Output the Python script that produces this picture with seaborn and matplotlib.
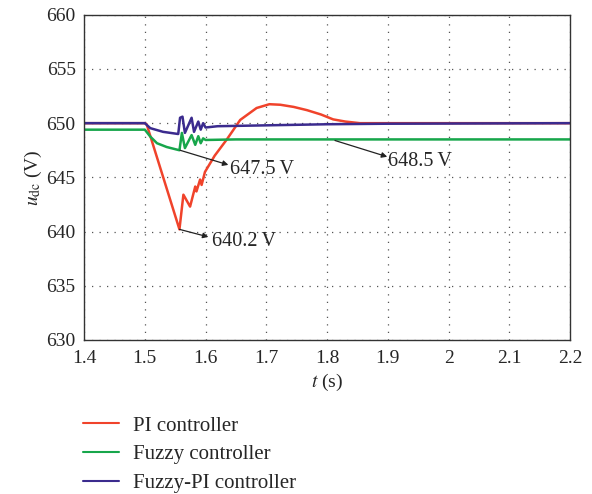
import pandas as pd
import matplotlib
matplotlib.use('Agg')
import matplotlib.pyplot as plt
import seaborn as sns

# Dane
t_pi = [1.4, 1.5, 1.503, 1.557, 1.5635, 1.5745, 1.583, 1.585, 1.591, 1.5935, 1.599,
        1.615, 1.635, 1.657, 1.684, 1.705, 1.723, 1.745, 1.767, 1.79, 1.81, 1.83,
        1.854, 1.9, 2.2]
u_pi = [650.0, 650.0, 649.9, 640.2, 643.4, 642.3, 644.15, 643.7, 644.8, 644.3, 645.5,
        647.0, 648.5, 650.3, 651.4, 651.75, 651.7, 651.5, 651.2, 650.8, 650.35, 650.15,
        650.0, 650.0, 650.0]

t_fz = [1.4, 1.5, 1.509, 1.52, 1.536, 1.557, 1.561, 1.566, 1.577, 1.583, 1.588, 1.592,
        1.596, 1.6, 1.65, 2.2]
u_fz = [649.4, 649.4, 648.76, 648.15, 647.8, 647.5, 649.1, 647.7, 648.9, 648.0, 648.8,
        648.15, 648.6, 648.45, 648.5, 648.5]

t_fpi = [1.4, 1.5, 1.509, 1.53, 1.555, 1.558, 1.562, 1.566, 1.577, 1.581, 1.588, 1.592,
         1.596, 1.6, 1.62, 1.7, 1.8, 1.9, 2.2]
u_fpi = [650.0, 650.0, 649.54, 649.2, 649.0, 650.5, 650.6, 649.1, 650.5, 649.2, 650.15,
         649.4, 650.0, 649.6, 649.72, 649.8, 649.9, 649.95, 650.0]

labels = ['PI controller', 'Fuzzy controller', 'Fuzzy-PI controller']
colors = ['#f0432b', '#17a64b', '#3b2b8e']

df = pd.concat([
    pd.DataFrame({'t': t_pi, 'u': u_pi, 'ctrl': labels[0]}),
    pd.DataFrame({'t': t_fz, 'u': u_fz, 'ctrl': labels[1]}),
    pd.DataFrame({'t': t_fpi, 'u': u_fpi, 'ctrl': labels[2]}),
], ignore_index=True)

sns.set_style('white')
plt.rcParams['font.family'] = ['Liberation Serif', 'DejaVu Serif']
plt.rcParams['mathtext.fontset'] = 'stix'

fig = plt.figure(figsize=(5.92, 4.94), dpi=100)
ax = fig.add_axes([0.142, 0.312, 0.821, 0.658])

sns.lineplot(data=df, x='t', y='u', hue='ctrl', hue_order=labels,
             palette=dict(zip(labels, colors)), estimator=None, sort=False,
             linewidth=1.8, ax=ax, legend=False)

ax.set_xlim(1.4, 2.2)
ax.set_ylim(630, 660)
ax.set_xticks([1.4, 1.5, 1.6, 1.7, 1.8, 1.9, 2.0, 2.1, 2.2])
ax.set_xticklabels(['1.4', '1.5', '1.6', '1.7', '1.8', '1.9', '2', '2.1', '2.2'])
ax.set_yticks(range(630, 661, 5))
ax.tick_params(labelsize=14, length=0)
ax.tick_params(axis='x', pad=7.5)
ax.tick_params(axis='y', pad=6)
ax.grid(True, linestyle=(0, (1, 5)), color='#555555', linewidth=0.9)
for s in ax.spines.values():
    s.set_color('#333333')
    s.set_linewidth(1.0)

ax.set_xlabel(r'$t$ (s)', fontsize=14, labelpad=3)
ax.set_ylabel(r'$u_{\mathrm{dc}}$ (V)', fontsize=14, labelpad=2)

# strzałki od punktu do opisu
arrow = dict(arrowstyle='-|>', color='#222222', lw=0.9, mutation_scale=8,
             shrinkA=0, shrinkB=0)
notes = [('647.5\u2009V', (1.558, 647.5), (1.6375, 646.15), (1.640, 645.7)),
         ('640.2\u2009V', (1.557, 640.2), (1.6046, 639.5), (1.610, 639.1)),
         ('648.5\u2009V', (1.813, 648.4), (1.899, 646.9), (1.901, 646.5))]
for txt, p0, p1, pt in notes:
    ax.annotate('', xy=p1, xytext=p0, arrowprops=arrow)
    ax.text(pt[0], pt[1], txt, fontsize=14.5, va='center', ha='left')

handles = [plt.Line2D([], [], color=c, lw=1.5) for c in colors]
fig.legend(handles, labels, loc='upper left', bbox_to_anchor=(0.14, 0.158),
           frameon=False, fontsize=15, handlelength=1.75, handletextpad=0.65,
           labelspacing=0.45, borderaxespad=0, borderpad=0)

fig.savefig('out.png', dpi=100)
